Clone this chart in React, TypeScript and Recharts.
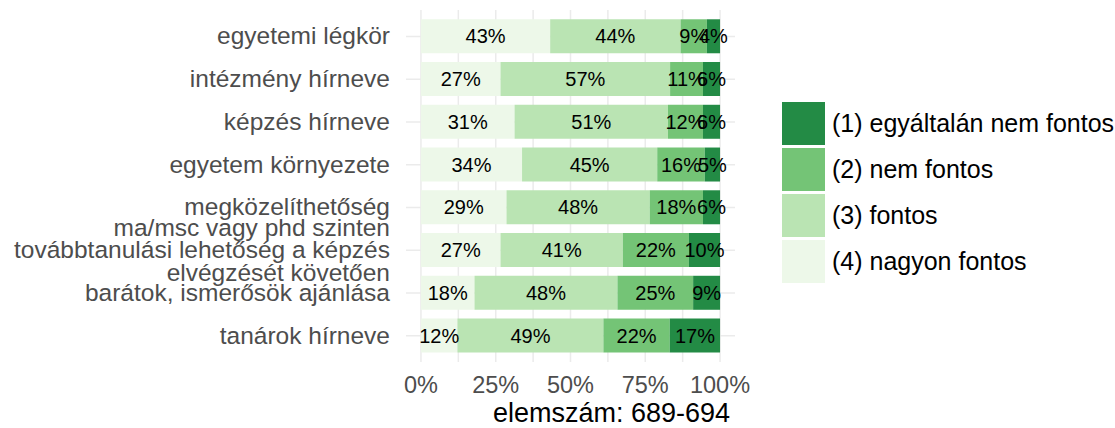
import { BarChart, Bar, XAxis, YAxis, CartesianGrid, Legend, LabelList, Label } from 'recharts'

const categories = [
  'egyetemi légkör',
  'intézmény hírneve',
  'képzés hírneve',
  'egyetem környezete',
  'megközelíthetőség',
  'ma/msc vagy phd szinten\ntovábbtanulási lehetőség a képzés\nelvégzését követően',
  'barátok, ismerősök ajánlása',
  'tanárok hírneve',
]

// share of answers per category, in percent
const nagyonFontos = [43.2, 26.6, 31.3, 33.8, 28.6, 26.6, 17.9, 12.2]
const fontos = [43.6, 56.7, 51.3, 45.2, 47.9, 40.9, 47.8, 48.8]
const nemFontos = [8.8, 11.0, 11.7, 15.9, 17.8, 22.1, 25.3, 22.2]
const egyaltalanNem = [4.4, 5.7, 5.7, 5.1, 5.7, 10.4, 9.0, 16.8]

const seriesNames = ['(4) nagyon fontos', '(3) fontos', '(2) nem fontos', '(1) egyáltalán nem fontos']
const xTicks = [0, 12.5, 25, 37.5, 50, 62.5, 75, 87.5, 100]
const axisTitle = 'elemszám: 689-694'

const colors = ['#edf8e9', '#bae4b3', '#74c476', '#238b45']
const font = '"Liberation Sans", Arial, sans-serif'

const data = categories.map((name, i) => ({
  name,
  v4: nagyonFontos[i],
  v3: fontos[i],
  v2: nemFontos[i],
  v1: egyaltalanNem[i],
}))

const CategoryTick = ({ x, y, payload }: any) => {
  const lines = String(payload.value).split('\n')
  const lh = 22.5
  return (
    <text x={x} y={y} textAnchor="end" fill="#4d4d4d" fontSize={24.5} fontFamily={font}>
      {lines.map((line, i) => (
        <tspan key={i} x={x} dy={i === 0 ? (-(lines.length - 1) / 2) * lh + 8 : lh}>
          {line}
        </tspan>
      ))}
    </text>
  )
}

const renderLegend = ({ payload }: any) => (
  <div style={{ fontFamily: font, fontSize: 25, color: '#000' }}>
    {(payload || []).map((entry: any) => (
      <div key={entry.value} style={{ display: 'flex', alignItems: 'center', height: 43, marginBottom: 3, whiteSpace: 'nowrap' }}>
        <span style={{ width: 43, height: 43, background: entry.color, marginRight: 7, display: 'inline-block' }} />
        <span>{entry.value}</span>
      </div>
    ))}
  </div>
)

const pct = (v: any) => `${Math.round(Number(v))}%`

export default function App() {
  const keys = ['v4', 'v3', 'v2', 'v1']
  return (
    <div style={{ position: 'absolute', left: 0, top: 0, background: '#fff' }}>
      <BarChart
        width={1115}
        height={428}
        data={data}
        layout="vertical"
        margin={{ top: 10, right: 380, left: 0, bottom: 0 }}
        barCategoryGap="10%"
      >
        <CartesianGrid stroke="#ebebeb" strokeWidth={1.5} syncWithTicks />
        <XAxis
          type="number"
          domain={[-5, 105]}
          ticks={xTicks}
          interval={0}
          height={66}
          tickLine={false}
          axisLine={false}
          tickSize={0}
          tickMargin={14}
          tickFormatter={(v: number) => (v % 25 === 0 ? `${v}%` : '')}
          tick={{ fill: '#4d4d4d', fontSize: 23.5, fontFamily: font }}
        >
          <Label value={axisTitle} position="insideBottom" offset={6} dx={41} fill="#000" fontSize={27} fontFamily={font} />
        </XAxis>
        <YAxis
          type="category"
          dataKey="name"
          width={406}
          interval={0}
          tickLine={false}
          axisLine={false}
          tickSize={0}
          tickMargin={16}
          padding={{ top: 5, bottom: 5 }}
          tick={<CategoryTick />}
        />
        <Legend
          layout="vertical"
          align="center"
          verticalAlign="middle"
          content={renderLegend}
          wrapperStyle={{ left: 782, top: 102, width: 'auto', height: 'auto' }}
        />
        {keys.map((k, i) => (
          <Bar key={k} dataKey={k} name={seriesNames[i]} stackId="a" fill={colors[i]} isAnimationActive={false}>
            <LabelList dataKey={k} position="center" formatter={pct} fill="#000" fontSize={20} fontFamily={font} />
          </Bar>
        ))}
      </BarChart>
    </div>
  )
}
